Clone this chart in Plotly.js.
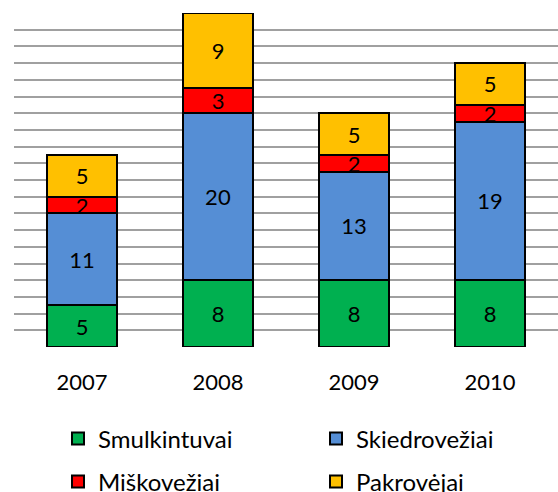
<!DOCTYPE html>
<html><head><meta charset="utf-8">
<script src="https://cdn.plot.ly/plotly-3.0.1.min.js"></script>
<style>html,body{margin:0;padding:0;background:#fff}</style>
</head><body><div id="chart" style="width:558px;height:492px"></div>
<script>
const years = ['2007', '2008', '2009', '2010'];
const smulkintuvai = [5, 8, 8, 8];
const skiedrovezhiai = [11, 20, 13, 19];
const miskovezhiai = [2, 3, 2, 2];
const pakrovejai = [5, 9, 5, 5];

const FONT = 'Lato, "Open Sans", sans-serif';
function tr(name, vals, color, legend) {
  return {
    type: 'bar', name: name, x: years, y: vals,
    text: vals.map(String), textposition: 'inside', insidetextanchor: 'middle',
    constraintext: 'none', textangle: 0,
    textfont: {family: FONT, size: 22, color: '#000'},
    marker: {color: color, line: {color: '#000', width: 2}},
    hoverinfo: 'none', legend: legend
  };
}
const data = [
  tr('Smulkintuvai', smulkintuvai, '#00B050', 'legend'),
  tr('Skiedrovežiai', skiedrovezhiai, '#558ED5', 'legend'),
  tr('Miškovežiai', miskovezhiai, '#FF0000', 'legend2'),
  tr('Pakrovėjai', pakrovejai, '#FFC000', 'legend2')
];
const legBase = {
  orientation: 'h', entrywidth: 213, entrywidthmode: 'pixels',
  font: {family: FONT, size: 24, color: '#000'},
  xref: 'container', yref: 'container',
  xanchor: 'left', yanchor: 'middle', traceorder: 'normal',
  bgcolor: 'rgba(0,0,0,0)', itemclick: false
};
const layout = {
  width: 558, height: 492,
  margin: {l: 14, r: 0, t: 13, b: 145.3, autoexpand: false},
  barmode: 'stack', bargap: 0.485,
  paper_bgcolor: '#fff', plot_bgcolor: '#fff',
  font: {family: FONT, size: 22, color: '#000'},
  xaxis: {type: 'category', range: [-0.5, 3.5], showgrid: false, zeroline: false, showline: false,
          ticks: '', tickfont: {family: FONT, size: 22, color: '#000'}, ticklabelstandoff: 20},
  yaxis: {range: [0, 40], dtick: 2, showticklabels: false, showgrid: true,
          gridcolor: '#a0a0a0', gridwidth: 2, zeroline: false, showline: false, ticks: ''},
  showlegend: true,
  legend: Object.assign({}, legBase, {x: 58 / 558, y: 1 - 439 / 492}),
  legend2: Object.assign({}, legBase, {x: 58 / 558, y: 1 - 482 / 492})
};
Plotly.newPlot('chart', data, layout, {staticPlot: true});
</script></body></html>
